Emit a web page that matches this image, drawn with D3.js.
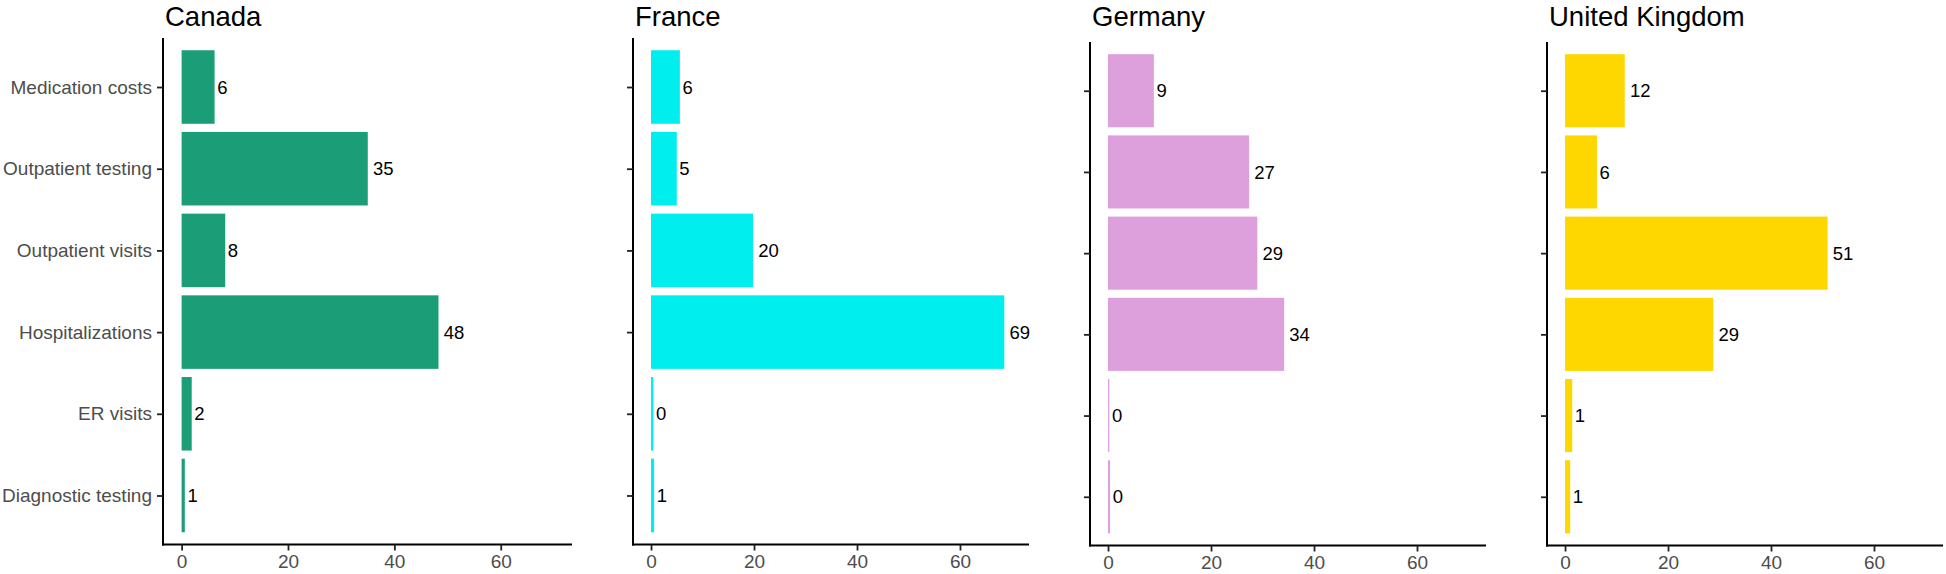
<!DOCTYPE html>
<html>
<head>
<meta charset="utf-8">
<script src="https://cdn.jsdelivr.net/npm/d3@7"></script>
<style>
  html, body { margin: 0; padding: 0; background: #ffffff; }
  svg { display: block; font-family: "Liberation Sans", Arial, sans-serif; }
</style>
</head>
<body>
<svg id="chart" width="1946" height="574"></svg>
<script>
// ---- data ----
const categories = ["Medication costs", "Outpatient testing", "Outpatient visits", "Hospitalizations", "ER visits", "Diagnostic testing"];
const countries = ["Canada", "France", "Germany", "United Kingdom"];
const canadaValues  = [6.2, 35, 8.2, 48.3, 1.9, 0.6];
const franceValues  = [5.6, 5.0, 19.8, 68.6, 0.45, 0.6];
const germanyValues = [8.9, 27.4, 29, 34.2, 0.25, 0.4];
const ukValues      = [11.6, 6.2, 51, 28.8, 1.4, 1.0];
const countryColors = ["#1b9e77", "#00eeee", "#dda0dd", "#ffd700"];
const xTickValues = [0, 20, 40, 60];
const xDomain = [-3.5, 73.4];

const seriesValues = [canadaValues, franceValues, germanyValues, ukValues];

// ---- layout (panel frames) ----
const panelLayout = [
  { left: 163,  right: 572,  top: 38, bottom: 544.5, yLabels: true },
  { left: 633,  right: 1029, top: 38, bottom: 544.5, yLabels: false },
  { left: 1090, right: 1486, top: 42, bottom: 545.5, yLabels: false },
  { left: 1547, right: 1943, top: 42, bottom: 545.5, yLabels: false }
];

const svg = d3.select("#chart");
const fmt = d3.format(".0f");

countries.forEach((country, i) => {
  const L = panelLayout[i];
  const vals = seriesValues[i];
  const data = categories.map((c, j) => ({ cat: c, value: vals[j] }));

  const x = d3.scaleLinear().domain(xDomain).range([L.left, L.right]);
  const y = d3.scalePoint().domain(categories).range([L.top, L.bottom]).padding(0.6);
  const barH = y.step() * 0.9;

  const g = svg.append("g");

  // bars
  g.selectAll("rect.bar").data(data).enter().append("rect")
    .attr("class", "bar")
    .attr("x", x(0))
    .attr("y", d => y(d.cat) - barH / 2)
    .attr("width", d => Math.max(0, x(d.value) - x(0)))
    .attr("height", barH)
    .attr("fill", countryColors[i]);

  // value labels
  g.selectAll("text.val").data(data).enter().append("text")
    .attr("class", "val")
    .attr("x", d => x(d.value))
    .attr("y", d => y(d.cat))
    .attr("dy", "0.36em")
    .attr("font-size", "18.5px")
    .attr("fill", "#000")
    .text(d => fmt(d.value))
    .each(function(d) {
      const w = this.getComputedTextLength();
      d3.select(this).attr("x", x(d.value) + 0.25 * w);
    });

  // x axis
  const xAxis = d3.axisBottom(x).tickValues(xTickValues).tickSize(6).tickSizeOuter(0).tickPadding(4);
  const gx = g.append("g").attr("transform", `translate(0,${L.bottom})`).call(xAxis);
  gx.select(".domain").attr("stroke", "#000").attr("stroke-width", 2).attr("d", `M${L.left - 1},0H${L.right}`);
  gx.selectAll(".tick line").attr("stroke", "#222").attr("stroke-width", 1.8);
  gx.selectAll(".tick text").attr("fill", "#4d4d4d").attr("font-size", "19px")
    .attr("font-family", "'Liberation Sans', Arial, sans-serif");

  // y axis
  const yAxis = d3.axisLeft(y).tickSize(6).tickSizeOuter(0).tickPadding(5);
  if (!L.yLabels) yAxis.tickFormat(() => "");
  const gy = g.append("g").attr("transform", `translate(${L.left},0)`).call(yAxis);
  gy.select(".domain").attr("stroke", "#000").attr("stroke-width", 2).attr("d", `M0,${L.top}V${L.bottom + 1}`);
  gy.selectAll(".tick line").attr("stroke", "#222").attr("stroke-width", 1.8);
  gy.selectAll(".tick text").attr("fill", "#4d4d4d").attr("font-size", "19px")
    .attr("font-family", "'Liberation Sans', Arial, sans-serif");

  // title
  g.append("text")
    .attr("x", L.left + 2)
    .attr("y", 25.5)
    .attr("font-size", "27.5px")
    .attr("fill", "#000")
    .text(country);
});
</script>
</body>
</html>
